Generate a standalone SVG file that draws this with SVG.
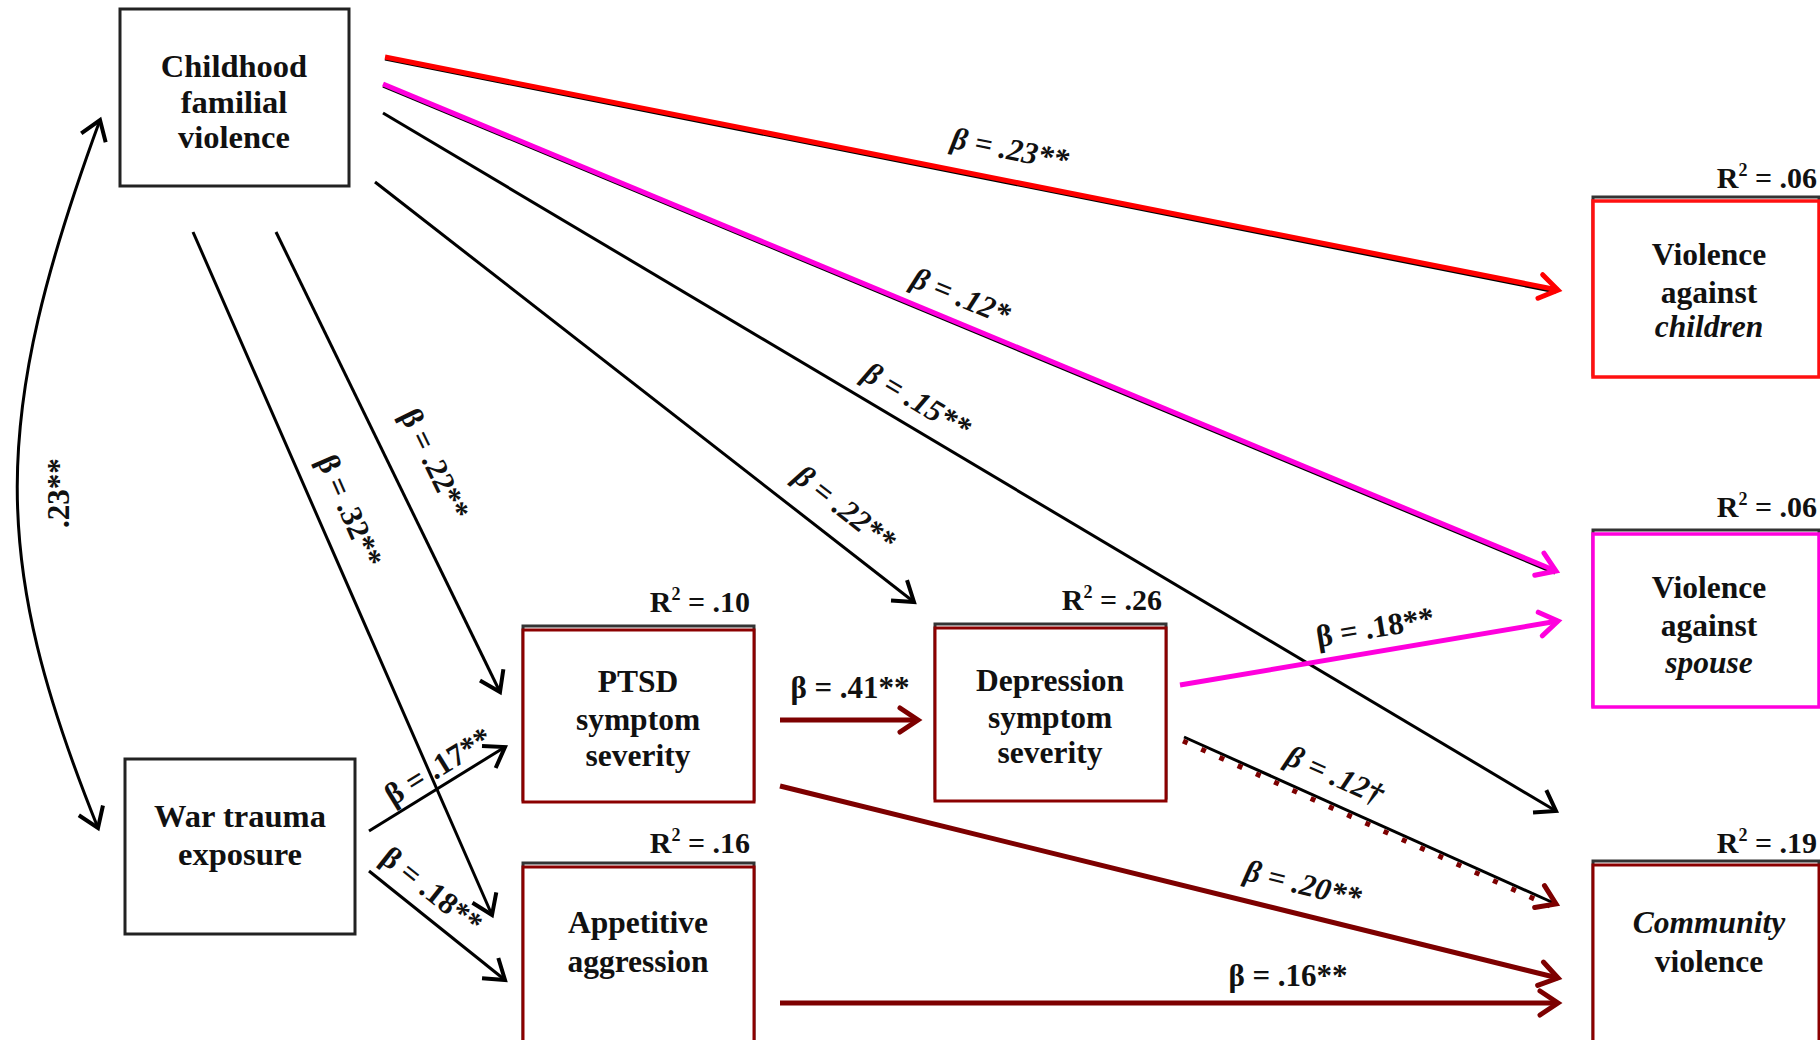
<svg xmlns="http://www.w3.org/2000/svg" width="1820" height="1040" viewBox="0 0 1820 1040">
<defs>
<style>
.t{font-family:"Liberation Serif","Times New Roman",serif;font-weight:bold;font-size:31.5px;text-anchor:middle;fill:#111}
.t2{font-size:32.5px}
.r2{font-family:"Liberation Serif","Times New Roman",serif;font-weight:bold;font-size:30px;text-anchor:end;fill:#111}
.b{font-family:"Liberation Serif","Times New Roman",serif;font-weight:bold;font-size:31px;text-anchor:middle;dominant-baseline:central;fill:#111}
.i{font-style:italic}
.box{fill:#fff;stroke:#222;stroke-width:3}
.top{fill:none;stroke:#333;stroke-width:3}
.dr{fill:#fff;stroke:#8b0000;stroke-width:3}
.rd{fill:#fff;stroke:#ff1010;stroke-width:3.5}
.mg{fill:#fff;stroke:#ff00dd;stroke-width:3.5}
.lk{fill:none;stroke:#000;stroke-width:3}
.lr{fill:none;stroke:#ff0000;stroke-width:5}
.lm{fill:none;stroke:#ff00dd;stroke-width:5}
.ld{fill:none;stroke:#7d0000;stroke-width:5}
.sh{fill:none;stroke:#000;stroke-width:3}
</style>
<marker id="ak" markerUnits="userSpaceOnUse" markerWidth="40" markerHeight="40" refX="20" refY="20" orient="auto" overflow="visible"><path d="M1,7 L20,20 L1,33" fill="none" stroke="#000" stroke-width="4" stroke-linejoin="miter"/></marker>
<marker id="aks" markerUnits="userSpaceOnUse" markerWidth="40" markerHeight="40" refX="20" refY="20" orient="auto-start-reverse" overflow="visible"><path d="M1,7 L20,20 L1,33" fill="none" stroke="#000" stroke-width="4" stroke-linejoin="miter"/></marker>
<marker id="ar" markerUnits="userSpaceOnUse" markerWidth="40" markerHeight="40" refX="20" refY="20" orient="auto" overflow="visible"><path d="M2,8 L20,20 L2,32" fill="none" stroke="#ff0000" stroke-width="5" stroke-linecap="round"/></marker>
<marker id="am" markerUnits="userSpaceOnUse" markerWidth="40" markerHeight="40" refX="20" refY="20" orient="auto" overflow="visible"><path d="M2,8 L20,20 L2,32" fill="none" stroke="#ff00dd" stroke-width="5" stroke-linecap="round"/></marker>
<marker id="ad" markerUnits="userSpaceOnUse" markerWidth="40" markerHeight="40" refX="20" refY="20" orient="auto" overflow="visible"><path d="M2,8 L20,20 L2,32" fill="none" stroke="#7d0000" stroke-width="5" stroke-linecap="round"/></marker>
</defs>
<rect width="1820" height="1040" fill="#fff"/>

<g id="connectors">
  <!-- covariance curve -->
  <path class="lk" d="M100,120 C-10,420 -10,560 98,828" marker-start="url(#aks)" marker-end="url(#aks)"/>
  <text class="b" transform="translate(58,493) rotate(-90)">.23**</text>

  <!-- childhood -> children (red) -->
  <line class="sh" x1="385" y1="59" x2="1556" y2="292"/>
  <line class="lr" x1="385" y1="57" x2="1558" y2="290" marker-end="url(#ar)"/>
  <text class="b i" transform="translate(1010,149) rotate(11.2)">β = .23**</text>

  <!-- childhood -> spouse (magenta) -->
  <line class="sh" x1="383" y1="86" x2="1555" y2="573"/>
  <line class="lm" x1="383" y1="84" x2="1556" y2="571" marker-end="url(#am)"/>
  <text class="b i" transform="translate(961,296) rotate(22.5)">β = .12*</text>

  <!-- childhood -> community -->
  <line class="lk" x1="383" y1="113" x2="1556" y2="811" marker-end="url(#ak)"/>
  <text class="b i" transform="translate(917,400) rotate(30.7)">β = .15**</text>

  <!-- childhood -> depression -->
  <line class="lk" x1="375" y1="182" x2="914" y2="602" marker-end="url(#ak)"/>
  <text class="b i" transform="translate(845,508) rotate(37.9)">β = .22**</text>

  <!-- childhood -> PTSD -->
  <line class="lk" x1="276" y1="232" x2="500" y2="692" marker-end="url(#ak)"/>
  <text class="b" transform="translate(435,464) rotate(64)">β = .22**</text>

  <!-- childhood -> appetitive -->
  <line class="lk" x1="193" y1="232" x2="492" y2="915" marker-end="url(#ak)"/>
  <text class="b" transform="translate(350,511) rotate(66.3)">β = .32**</text>

  <!-- war -> PTSD -->
  <line class="lk" x1="369" y1="831" x2="505" y2="747" marker-end="url(#ak)"/>
  <text class="b" transform="translate(438,766) rotate(-31.6)">β = .17**</text>

  <!-- war -> appetitive -->
  <line class="lk" x1="369" y1="871" x2="505" y2="980" marker-end="url(#ak)"/>
  <text class="b" transform="translate(432,890) rotate(38.6)">β = .18**</text>

  <!-- PTSD -> depression -->
  <line class="ld" x1="780" y1="720" x2="918" y2="720" marker-end="url(#ad)"/>
  <text class="b" transform="translate(850,687)">β = .41**</text>

  <!-- depression -> spouse -->
  <line class="lm" x1="1180" y1="685" x2="1558" y2="621" marker-end="url(#am)"/>
  <text class="b" transform="translate(1375,627) rotate(-9.5)">β = .18**</text>

  <!-- depression -> community (dotted) -->
  <line class="lk" x1="1184" y1="737" x2="1556" y2="904" marker-end="url(#ad)"/>
  <line x1="1183" y1="741" x2="1550" y2="906" stroke="#7d0000" stroke-width="5" stroke-dasharray="5 15"/>
  <text class="b i" transform="translate(1335,775) rotate(24)">β = .12†</text>

  <!-- PTSD -> community -->
  <line class="ld" x1="780" y1="786" x2="1558" y2="978" marker-end="url(#ad)"/>
  <text class="b i" transform="translate(1303,884) rotate(14)">β = .20**</text>

  <!-- appetitive -> community -->
  <line class="ld" x1="780" y1="1003" x2="1558" y2="1003" marker-end="url(#ad)"/>
  <text class="b" transform="translate(1288,975)">β = .16**</text>
</g>

<g id="childhood">
  <rect class="box" x="120" y="9" width="229" height="177"/>
  <text class="t t2" x="234" y="77">Childhood</text>
  <text class="t t2" x="234" y="113">familial</text>
  <text class="t t2" x="234" y="148">violence</text>
</g>

<g id="war">
  <rect class="box" x="125" y="759" width="230" height="175"/>
  <text class="t t2" x="240" y="827">War trauma</text>
  <text class="t t2" x="240" y="865">exposure</text>
</g>

<g id="ptsd">
  <rect class="top" x="523" y="626" width="231" height="174"/>
  <rect class="dr" x="523" y="630" width="231" height="172"/>
  <text class="t" x="638" y="692">PTSD</text>
  <text class="t" x="638" y="730">symptom</text>
  <text class="t" x="638" y="766">severity</text>
  <text class="r2" x="750" y="612">R<tspan font-size="18" dy="-12">2</tspan><tspan dy="12"> = .10</tspan></text>
</g>

<g id="appetitive">
  <rect class="top" x="523" y="863" width="231" height="190"/>
  <rect class="dr" x="523" y="867" width="231" height="190"/>
  <text class="t" x="638" y="933">Appetitive</text>
  <text class="t" x="638" y="972">aggression</text>
  <text class="r2" x="750" y="853">R<tspan font-size="18" dy="-12">2</tspan><tspan dy="12"> = .16</tspan></text>
</g>

<g id="depression">
  <rect class="top" x="935" y="624" width="231" height="174"/>
  <rect class="dr" x="935" y="628" width="231" height="173"/>
  <text class="t" x="1050" y="691">Depression</text>
  <text class="t" x="1050" y="728">symptom</text>
  <text class="t" x="1050" y="763">severity</text>
  <text class="r2" x="1162" y="610">R<tspan font-size="18" dy="-12">2</tspan><tspan dy="12"> = .26</tspan></text>
</g>

<g id="children">
  <rect class="top" x="1593" y="197" width="226" height="178"/>
  <rect class="rd" x="1593" y="201" width="226" height="176"/>
  <text class="t" x="1709" y="265">Violence</text>
  <text class="t" x="1709" y="303">against</text>
  <text class="t i" x="1709" y="337">children</text>
  <text class="r2" x="1817" y="188">R<tspan font-size="18" dy="-12">2</tspan><tspan dy="12"> = .06</tspan></text>
</g>

<g id="spouse">
  <rect class="top" x="1593" y="530" width="226" height="176"/>
  <rect class="mg" x="1593" y="534" width="226" height="173"/>
  <text class="t" x="1709" y="598">Violence</text>
  <text class="t" x="1709" y="636">against</text>
  <text class="t i" x="1709" y="673">spouse</text>
  <text class="r2" x="1817" y="517">R<tspan font-size="18" dy="-12">2</tspan><tspan dy="12"> = .06</tspan></text>
</g>

<g id="community">
  <rect class="top" x="1593" y="861" width="226" height="190"/>
  <rect class="dr" x="1593" y="865" width="226" height="190"/>
  <text class="t i" x="1709" y="933">Community</text>
  <text class="t" x="1709" y="972">violence</text>
  <text class="r2" x="1817" y="853">R<tspan font-size="18" dy="-12">2</tspan><tspan dy="12"> = .19</tspan></text>
</g>
</svg>
